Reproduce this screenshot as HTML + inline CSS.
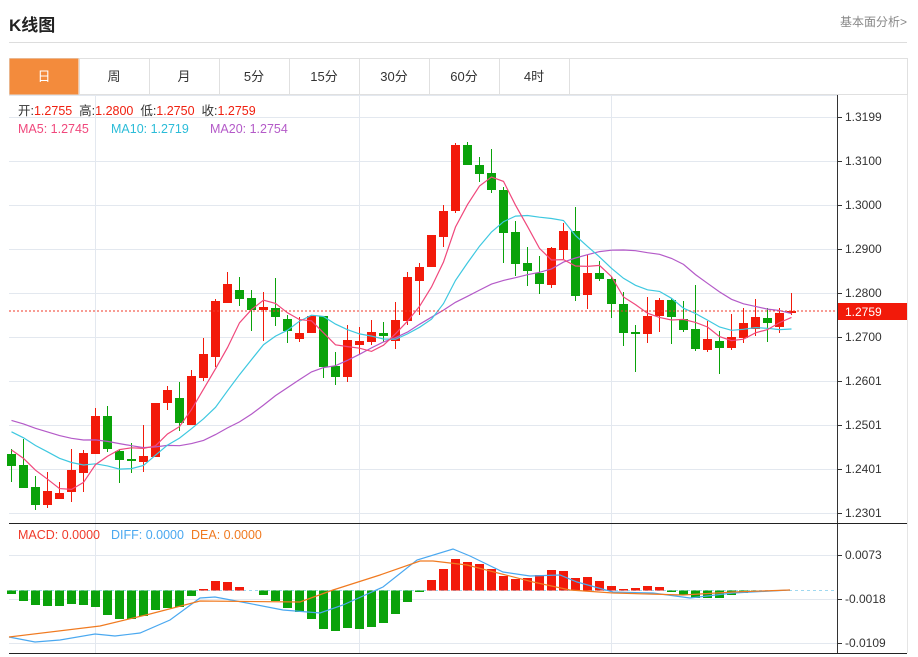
<!DOCTYPE html>
<html><head><meta charset="utf-8"><style>
body{margin:0;background:#fff;width:918px;height:657px;overflow:hidden;font-family:"Liberation Sans","Noto Sans CJK SC",sans-serif}
.t{position:absolute}
</style></head><body>
<div class="t" style="left:9px;top:11px;font-size:17px;font-weight:bold;color:#222">K线图</div>
<div class="t" style="right:11px;top:13px;font-size:12px;color:#888">基本面分析&gt;</div>
<div class="t" style="left:9px;top:42px;width:898px;height:1px;background:#ddd"></div>
<svg class="t" style="left:0;top:0" width="918" height="657" xmlns="http://www.w3.org/2000/svg" font-family="Liberation Sans, Noto Sans CJK SC, sans-serif">
<g id="tabs"></g>
<g id="grid" stroke="#e3e8ef" stroke-width="1"></g>
<g id="main"></g>
<g id="macd"></g>
</svg>
<script>
const NS="http://www.w3.org/2000/svg";
function el(p,t,a,txt){const e=document.createElementNS(NS,t);for(const k in a)e.setAttribute(k,a[k]);if(txt!==undefined)e.textContent=txt;p.appendChild(e);return e;}
const tabs=document.getElementById('tabs'),grid=document.getElementById('grid'),main=document.getElementById('main'),mac=document.getElementById('macd');
// tabs
el(tabs,'rect',{x:9.5,y:58.5,width:898,height:36,fill:'none',stroke:'#e0e0e0'});
el(tabs,'rect',{x:9.5,y:58.5,width:69,height:36,fill:'#f38b3c'});
const tl=['日','周','月','5分','15分','30分','60分','4时'];
tl.forEach((s,i)=>{const x=9+70*i;if(i>0)el(tabs,'line',{x1:x+.5,y1:58,x2:x+.5,y2:94,stroke:'#e0e0e0'});
el(tabs,'text',{x:x+35,y:81,'text-anchor':'middle','font-size':13,fill:i==0?'#fff':'#333'},s);});
el(tabs,'line',{x1:569.5,y1:58,x2:569.5,y2:94,stroke:'#e0e0e0'});
// grid
[117,161,205,249,293,337,381,425,469,513].forEach(y=>el(grid,'line',{x1:9,y1:y+.5,x2:837,y2:y+.5}));
[555,599,643].forEach(y=>el(grid,'line',{x1:9,y1:y+.5,x2:837,y2:y+.5}));
[95,359,611].forEach(x=>{el(grid,'line',{x1:x+.5,y1:95,x2:x+.5,y2:523});el(grid,'line',{x1:x+.5,y1:523,x2:x+.5,y2:653});});
el(grid,'line',{x1:9,y1:95.5,x2:837,y2:95.5});
// axes
el(main,'line',{x1:837.5,y1:95,x2:837.5,y2:653,stroke:'#333'});
el(main,'line',{x1:9,y1:523.5,x2:907,y2:523.5,stroke:'#222'});
el(main,'line',{x1:9,y1:653.5,x2:907,y2:653.5,stroke:'#222'});
el(main,'line',{x1:907.5,y1:95,x2:907.5,y2:653,stroke:'#e5e5e5'});
const pl=[[117,'1.3199'],[161,'1.3100'],[205,'1.3000'],[249,'1.2900'],[293,'1.2800'],[337,'1.2700'],[381,'1.2601'],[425,'1.2501'],[469,'1.2401'],[513,'1.2301'],[555,'0.0073'],[599,'-0.0018'],[643,'-0.0109']];
pl.forEach(([y,s])=>{el(main,'line',{x1:837,y1:y+.5,x2:842,y2:y+.5,stroke:'#333'});el(main,'text',{x:845,y:y+4,'font-size':12,fill:'#333'},s);});
// candles [bodyTop,bodyBot,wickTop,wickBot,red?]
const C=[[454,466,449,482,0],[465,488,439,488,0],[487,505,476,510,0],[491,505,472,508,1],[493,499,482,499,1],[470,492,449,502,1],[453,473,450,492,1],[416,454,408,454,1],[416,449,406,452,0],[451,460,449,483,0],[459,461,443,473,0],[456,462,425,472,1],[403,457,403,457,1],[390,403,386,410,1],[398,423,382,431,0],[376,425,370,425,1],[354,378,338,381,1],[301,357,299,367,1],[284,303,272,303,1],[290,299,277,306,0],[298,310,290,331,0],[307,310,292,341,1],[308,317,278,326,0],[319,331,315,343,0],[333,339,317,342,1],[316,333,316,333,1],[316,367,316,378,0],[366,377,352,385,0],[340,377,325,382,1],[341,345,327,355,1],[332,342,320,345,1],[333,336,322,342,0],[320,341,302,349,1],[277,321,272,325,1],[267,281,263,315,1],[235,267,235,267,1],[211,237,205,247,1],[145,211,143,213,1],[145,165,142,165,0],[165,174,157,182,0],[173,190,149,193,0],[190,233,187,263,0],[232,264,221,276,0],[263,271,247,286,0],[273,284,256,294,0],[248,285,247,288,1],[231,250,223,260,1],[231,296,207,301,0],[273,295,255,309,1],[273,279,261,281,0],[279,304,276,318,0],[304,333,292,346,0],[332,334,325,372,0],[316,334,297,343,1],[300,316,298,332,1],[300,317,298,344,0],[319,330,301,332,0],[329,349,285,351,0],[339,350,321,352,1],[341,348,331,374,0],[337,348,314,350,1],[323,338,308,343,1],[317,329,299,336,1],[318,323,308,342,0],[313,327,308,333,1],[311,313,293,315,1]];
const X=i=>11.5+12*i;
const closes=C.map(c=>c[4]?c[0]:c[1]);
function ma(n,pad){return closes.map((v,i)=>{let s=0;for(let k=i-n+1;k<=i;k++)s+=k<0?pad:closes[k];return s/n;});}
function line(p,arr,col,start){let d='';arr.forEach((y,i)=>{if(i>=start)d+=(d?'L':'M')+X(i)+' '+y.toFixed(1);});el(p,'path',{d,fill:'none',stroke:col,'stroke-width':1.2});}
C.forEach((c,i)=>{const col=c[4]?'#f21a0a':'#0aa20a',x=X(i);
el(main,'line',{x1:x,y1:c[2],x2:x,y2:c[3],stroke:col,'stroke-width':1});
el(main,'rect',{x:x-4.5,y:c[0],width:9,height:Math.max(2,c[1]-c[0]),fill:col});});
line(main,ma(20,418),'#b45ac8',0);
line(main,ma(10,428),'#3ec8e0',0);
line(main,ma(5,446),'#f0487c',0);
el(main,'line',{x1:9,y1:311,x2:837,y2:311,stroke:'#f03a2a','stroke-dasharray':'2,2'});
el(main,'rect',{x:838,y:303,width:69,height:17,fill:'#f21a0a'});
el(main,'text',{x:845,y:316,'font-size':12,fill:'#fff'},'1.2759');
// legends
let t=el(main,'text',{x:18,y:115,'font-size':12.5,fill:'#333'});
[['开:','#333'],['1.2755','#f02010'],['  高:','#333'],['1.2800','#f02010'],['  低:','#333'],['1.2750','#f02010'],['  收:','#333'],['1.2759','#f02010']].forEach(([s,c])=>el(t,'tspan',{fill:c},s));
t.setAttribute('xml:space','preserve');t.style.whiteSpace='pre';
el(main,'text',{x:18,y:133,'font-size':12.5,fill:'#f0487c'},'MA5: 1.2745');
el(main,'text',{x:111,y:133,'font-size':12.5,fill:'#2bbcd8'},'MA10: 1.2719');
el(main,'text',{x:210,y:133,'font-size':12.5,fill:'#b45ac8'},'MA20: 1.2754');
el(mac,'text',{x:18,y:539,'font-size':12.5,fill:'#f03a2a'},'MACD: 0.0000');
el(mac,'text',{x:111,y:539,'font-size':12.5,fill:'#4aa8f0'},'DIFF: 0.0000');
el(mac,'text',{x:191,y:539,'font-size':12.5,fill:'#f07a20'},'DEA: 0.0000');
// macd
const Z=590.5;
el(mac,'line',{x1:9,y1:Z,x2:837,y2:Z,stroke:'#9fd8f0','stroke-dasharray':'3,3'});
const H=[594,601,605,606,606,604,605,607,615,619,619,616,610,608,607,596,589,581,582,587,591,595,601,608,612,619,629,631,628,629,627,623,614,602,592,580,569,559,562,564,569,576,579,578,575,570,571,578,577,581,586,589,588,586,587,592,595,598,598,598,595,593,592,591,591,590.5];
H.forEach((y,i)=>{const x=X(i);if(Math.abs(y-Z)<0.6)return;const up=y<Z;
el(mac,'rect',{x:x-4.5,y:Math.min(y,Z),width:9,height:Math.max(1.5,Math.abs(y-Z)),fill:up?'#f21a0a':'#0aa20a'});});
const diff=[[9,637],[35,642],[60,640],[95,634],[115,636],[140,633],[170,620],[200,598],[215,597],[247,603],[283,610],[320,613],[343,605],[383,587],[417,560],[453,549],[470,556],[503,572],[530,576],[560,575],[577,582],[613,592],[653,593],[690,598],[733,593],[790,590]];
const dea=[[9,637],[100,626],[150,614],[200,601],[300,602],[333,590],[380,575],[420,561],[433,561],[467,565],[533,582],[570,590],[613,593],[683,595],[733,592],[790,590]];
function pl2(pts,c){el(mac,'path',{d:'M'+pts.map(p=>p.join(' ')).join('L'),fill:'none',stroke:c,'stroke-width':1.2});}
pl2(diff,'#4aa8f0');pl2(dea,'#f07a20');
</script>
</body></html>
